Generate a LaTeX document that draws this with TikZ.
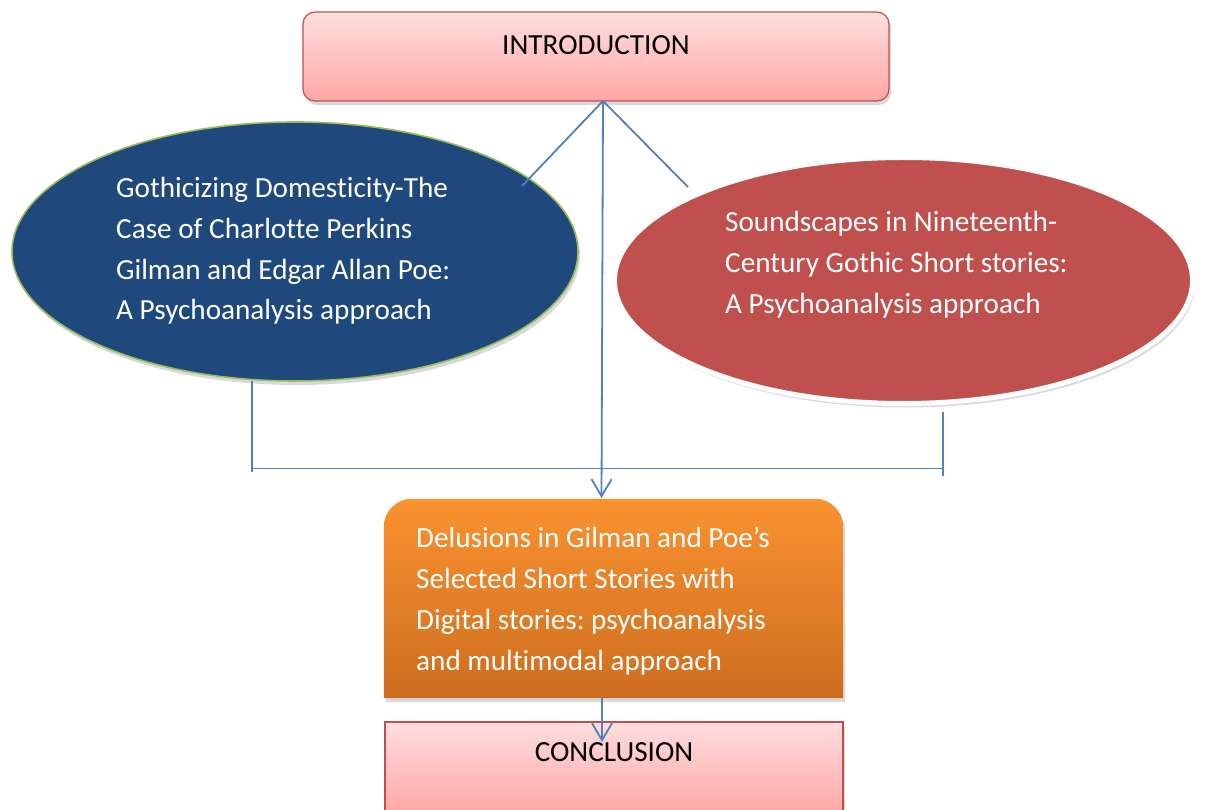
\documentclass[tikz,border=0pt]{standalone}
\usepackage{fontspec}
\setmainfont{Carlito}[Ligatures=NoCommon]
\frenchspacing
\usetikzlibrary{shapes.geometric,shadows,arrows.meta}
\definecolor{dblue}{HTML}{1F497D}
\definecolor{ogreen}{HTML}{9BBB59}
\definecolor{ored}{HTML}{C0504D}
\definecolor{conn}{HTML}{4F81BD}
\definecolor{pinktop}{HTML}{FFDEDE}
\definecolor{pinkbot}{HTML}{FFA6A6}
\definecolor{orgtop}{HTML}{FA9230}
\definecolor{orgbot}{HTML}{CD6D1F}
\tikzset{
  softshadow/.style={drop shadow={shadow xshift=2pt,shadow yshift=-4pt,opacity=0.25,fill=black!60}},
  pinkbox/.style={rectangle,draw=ored,line width=1.2pt,top color=pinktop,bottom color=pinkbot,inner sep=0pt,softshadow},
  bigtxt/.style={font={\fontsize{29.2}{40.7}\selectfont\frenchspacing},inner sep=0pt},
  conline/.style={draw=conn,line width=1.8pt},
  arr/.style={conline,-{Straight Barb[length=17pt,width=20pt]}}
}
\begin{document}
\begin{tikzpicture}[x=1pt,y=-1pt]
\useasboundingbox (0,0) rectangle (1208,810);
% shapes
\node[pinkbox,rounded corners=12pt,minimum width=586pt,minimum height=89pt] (intro) at (596,56.5) {};
\node[bigtxt,anchor=base,text=black] (introT) at (596,55) {INTRODUCTION};

\node[ellipse,draw=ogreen,line width=1.6pt,fill=dblue,minimum width=566pt,minimum height=259pt,inner sep=0pt,softshadow] (lell) at (295,251.5) {};
\node[bigtxt,anchor=base west,align=left,text=white] (lellT) at (116,320)
  {Gothicizing Domesticity-The\\Case of Charlotte Perkins\\Gilman and Edgar Allan Poe:\\A Psychoanalysis approach};

\node[ellipse,draw=white,line width=5pt,fill=ored,minimum width=578pt,minimum height=246pt,inner sep=0pt,softshadow] (rell) at (903.5,280.5) {};
\node[bigtxt,anchor=base west,align=left,text=white] (rellT) at (725,313.4)
  {Soundscapes in Nineteenth-\\Century Gothic Short stories:\\A Psychoanalysis approach};

\node[rectangle,minimum width=459pt,minimum height=199pt,inner sep=0pt] (org) at (613.5,598.5) {};
\path[top color=orgtop,bottom color=orgbot,rounded corners=28pt,softshadow] (org.south west) |- (org.north) -| (org.south east);
\node[bigtxt,anchor=base west,align=left,text=white] (orgT) at (416,670)
  {Delusions in Gilman and Poe’s\\Selected Short Stories with\\Digital stories: psychoanalysis\\and multimodal approach};

\node[pinkbox,minimum width=458pt,minimum height=92pt] (concl) at (614,768) {};
\node[bigtxt,anchor=base,text=black] (conclT) at (614,761) {CONCLUSION};

% connectors
\coordinate (hub) at (603,101);
\coordinate (lend) at (522,186);
\coordinate (rend) at (688,187);
\coordinate (mtip) at (601.5,498);
\coordinate (lt) at (252,381);
\coordinate (lb) at (252,472);
\coordinate (rt) at (943,412);
\coordinate (rb) at (943,476);
\coordinate (hl) at (252,468.5);
\coordinate (hr) at (943,468.5);
\coordinate (a2s) at (602,698);
\coordinate (a2e) at (602,742);

\draw[conline] (hub) -- (lend);
\draw[conline] (hub) -- (rend);
\draw[arr] (hub) -- (mtip);
\draw[conline] (lt) -- (lb);
\draw[conline] (rt) -- (rb);
\draw[conline] (hl) -- (hr);
\draw[arr] (a2s) -- (a2e);
\end{tikzpicture}
\end{document}
